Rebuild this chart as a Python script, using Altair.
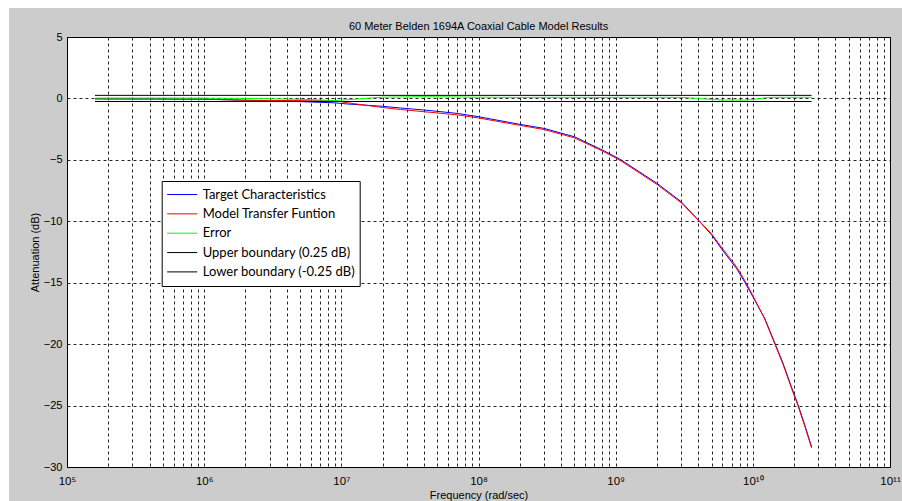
import altair as alt
import pandas as pd

# Angular frequency samples (rad/s) along the cable response
freq = [1.6e5, 4e5, 1e6, 2e6, 4e6, 6e6, 9e6, 1.1e7, 2e7, 2.7e7, 4e7, 7e7,
        1e8, 2e8, 3e8, 5e8, 8e8, 1.07e9, 2e9, 3e9, 4e9, 5e9, 6e9, 7.6e9,
        8.75e9, 1e10, 1.22e10, 1.45e10, 1.66e10, 1.91e10, 2.14e10, 2.39e10, 2.68e10]

# Measured (target) attenuation, dB
target_db = [-0.02, -0.03, -0.05, -0.15, -0.22, -0.29, -0.36, -0.45, -0.64, -0.78, -0.94, -1.22,
             -1.49, -2.11, -2.44, -3.12, -4.20, -4.93, -6.91, -8.40, -9.90, -11.10, -12.34, -13.83,
             -14.97, -16.14, -17.90, -19.93, -21.56, -23.47, -24.96, -26.58, -28.35]

# Fitted model transfer function, dB
model_db = [-0.05, -0.06, -0.07, -0.15, -0.17, -0.19, -0.18, -0.35, -0.74, -0.90, -1.08, -1.34,
            -1.59, -2.19, -2.53, -3.21, -4.28, -5.02, -7.00, -8.48, -9.90, -11.02, -12.21, -13.70,
            -14.84, -16.04, -17.95, -20.02, -21.65, -23.56, -25.05, -26.67, -28.44]

# Difference between target and model, dB
error_db = [0.03, 0.03, 0.02, 0.00, -0.05, -0.10, -0.18, -0.10, 0.10, 0.12, 0.14, 0.12,
            0.10, 0.08, 0.09, 0.09, 0.08, 0.09, 0.09, 0.08, 0.00, -0.08, -0.13, -0.13,
            -0.13, -0.10, 0.05, 0.09, 0.09, 0.09, 0.09, 0.09, 0.09]

# Tolerance band
bound_freq = [1.6e5, 2.68e10]
upper_db = [0.25, 0.25]
lower_db = [-0.25, -0.25]

series_names = ["Target Characteristics", "Model Transfer Funtion", "Error",
                "Upper boundary (0.25 dB)", "Lower boundary (-0.25 dB)"]
series_colors = ["#0000ff", "#ff0000", "#00ff00", "#000000", "#000000"]

x_exponents = [5, 6, 7, 8, 9, 10, 11]
x_ticks = [m * 10 ** e for e in range(5, 11) for m in range(1, 10)] + [10 ** 11]
y_ticks = [-30, -25, -20, -15, -10, -5, 0, 5]

rows = []
for name, fs, vals in [
    (series_names[0], freq, target_db),
    (series_names[1], freq, model_db),
    (series_names[2], freq, error_db),
    (series_names[3], bound_freq, upper_db),
    (series_names[4], bound_freq, lower_db),
]:
    for i, (f, v) in enumerate(zip(fs, vals)):
        rows.append({"series": name, "freq": f, "db": v, "order": i})
df = pd.DataFrame(rows)

# "10" with a superscript exponent on every decade, blank on minor ticks
sup = {"0": "\u2070", "1": "\u00b9", "2": "\u00b2", "3": "\u00b3", "4": "\u2074",
       "5": "\u2075", "6": "\u2076", "7": "\u2077", "8": "\u2078", "9": "\u2079"}
label_expr = "''"
for e in reversed(x_exponents):
    txt = "10" + "".join(sup[c] for c in str(e))
    label_expr = f"datum.value == {10 ** e} ? '{txt}' : ({label_expr})"

W, H = 823, 430
PAD = {"left": 67, "top": 37, "right": 12, "bottom": 34}
FONT = "Liberation Sans"

lines = alt.Chart(df).mark_line(strokeWidth=1, clip=True).encode(
    x=alt.X("freq:Q",
            scale=alt.Scale(type="log", domain=[1e5, 1e11], nice=False),
            axis=alt.Axis(values=x_ticks, labelExpr=label_expr, grid=True,
                          gridDash=[3, 3], gridColor="#000", gridOpacity=0.85,
                          domain=False, ticks=False, labelFont=FONT, labelFontSize=11.5,
                          labelColor="#000", labelPadding=8, labelFlush=False,
                          labelOverlap=False, title="Frequency (rad/sec)",
                          titleFont=FONT, titleFontSize=11, titleFontWeight="normal",
                          titleColor="#000", titlePadding=3)),
    y=alt.Y("db:Q",
            scale=alt.Scale(domain=[-30, 5], nice=False, zero=False),
            axis=alt.Axis(values=y_ticks, grid=True, gridDash=[3, 3], gridColor="#000",
                          gridOpacity=0.85, domain=False, ticks=False, labelFont=FONT,
                          labelFontSize=11, labelColor="#000", labelPadding=5,
                          title="Attenuation (dB)", titleFont=FONT, titleFontSize=11,
                          titleFontWeight="normal", titleColor="#000", titlePadding=3)),
    color=alt.Color("series:N",
                    scale=alt.Scale(domain=series_names, range=series_colors),
                    legend=alt.Legend(title=None, orient="none", legendX=94.7, legendY=144,
                                      symbolSize=900, symbolStrokeWidth=1, symbolOffset=1,
                                      labelFont="Lato", labelFontSize=13, labelColor="#000",
                                      labelLimit=300, labelOffset=5, fillColor="#ffffff",
                                      strokeColor="#000000", padding=4, clipHeight=19,
                                      rowPadding=0.35, cornerRadius=0)),
    order="order:Q",
)

# White margin strips framing the grey figure panel
strip_data = alt.Data(values=[{"k": 0}])
top_strip = alt.Chart(strip_data).mark_rect(color="#ffffff").encode(
    x=alt.value(-PAD["left"]), x2=alt.value(W + PAD["right"]),
    y=alt.value(-PAD["top"]), y2=alt.value(-PAD["top"] + 8))
left_strip = alt.Chart(strip_data).mark_rect(color="#ffffff").encode(
    x=alt.value(-PAD["left"]), x2=alt.value(-PAD["left"] + 9),
    y=alt.value(-PAD["top"]), y2=alt.value(H + PAD["bottom"]))

chart = alt.layer(top_strip, left_strip, lines).properties(
    width=W, height=H,
    autosize=alt.AutoSizeParams(type="none"),
    padding=PAD,
    background="#cccccc",
    title=alt.TitleParams(text="60 Meter Belden 1694A Coaxial Cable Model Results",
                          font=FONT, fontSize=11, fontWeight="normal", color="#000",
                          offset=9, dy=41, anchor="middle", frame="group"),
).configure_view(fill="#ffffff", stroke="#000000", strokeWidth=1)

chart.save("out.html", embed_options={"renderer": "svg", "actions": False})
